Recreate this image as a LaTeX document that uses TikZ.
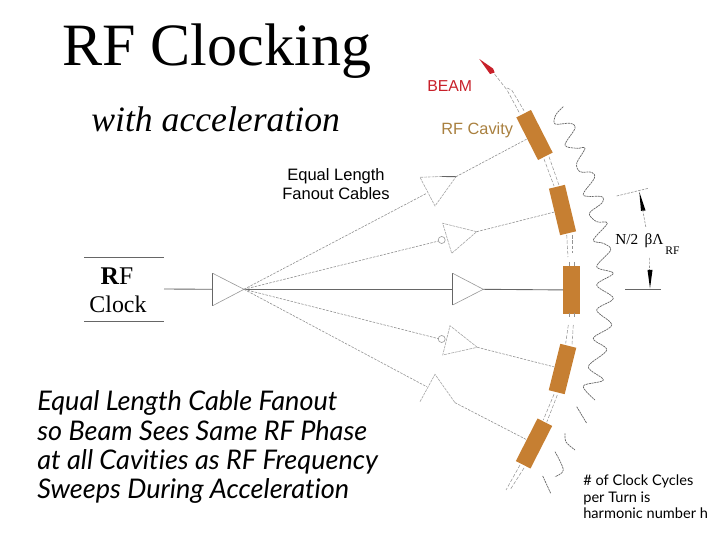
\documentclass[tikz,border=0pt]{standalone}
\usepackage{fontspec}
\setmainfont{Liberation Serif}
\setsansfont{Liberation Sans}
\newfontfamily\handfont[Ligatures=CommonOff]{Lato}
\usetikzlibrary{arrows.meta}
\definecolor{cavitybrown}{HTML}{C67F32}
\definecolor{cavitytext}{HTML}{A9803F}
\definecolor{beamred}{HTML}{C8202A}
\tikzset{
    cavity/.style={draw=none, fill=cavitybrown, minimum width=48pt*0.5669, minimum height=16.5pt*0.5669, inner sep=0pt},
    wire/.style={gray!85, line width=0.35pt, dash pattern=on 1.4pt off 0.7pt},
    pipe/.style={gray!85, line width=0.3pt, dash pattern=on 2pt off 1pt},
    solidwire/.style={black!60, line width=0.5pt},
    amp/.style={gray!70, line width=0.35pt, dash pattern=on 1.6pt off 0.5pt},
    rfwave/.style={gray!80!black, line width=0.4pt, dash pattern=on 1.2pt off 0.4pt, smooth, tension=0.55},
    handtext/.style={anchor=base west, inner sep=0pt, font=\handfont\itshape\fontsize{15.4}{17}\selectfont},
    cycletext/.style={anchor=base west, inner sep=0pt, font=\handfont\fontsize{8.3}{9.4}\selectfont}
}
\begin{document}
\begin{tikzpicture}[x=0.02cm, y=-0.02cm]
    \useasboundingbox (0, 0) rectangle (720, 540);

    % texts
    \node[anchor=base west, inner sep=0pt, font=\fontsize{34.2}{36}\selectfont] (title) at (62, 66) {RF Clocking};
    \node[anchor=base west, inner sep=0pt, font=\itshape\fontsize{20.3}{22}\selectfont] (subtitle) at (91, 132) {with acceleration};
    \node[anchor=base west, inner sep=0pt, text=beamred, font=\sffamily\fontsize{9}{10}\selectfont] (beamlabel) at (427, 92) {BEAM};
    \node[anchor=base west, inner sep=0pt, text=cavitytext, font=\sffamily\fontsize{9.3}{10}\selectfont] (cavitylabel) at (441, 135) {RF Cavity};
    \node[align=center, inner sep=0pt, font=\sffamily\fontsize{9.4}{10.8}\selectfont] (fanoutlabel) at (336, 184) {Equal Length\\Fanout Cables};
    \node[inner sep=0pt, font=\fontsize{14.5}{16}\selectfont] (rflabel) at (117, 276) {\textbf{R}F};
    \node[inner sep=0pt, font=\fontsize{13.6}{16}\selectfont] (clocklabel) at (118, 304) {Clock};
    \node[handtext] (notea) at (37, 411) {Equal Length Cable Fanout};
    \node[handtext] (noteb) at (37, 440) {so Beam Sees Same RF Phase};
    \node[handtext] (notec) at (37, 469) {at all Cavities as RF Frequency};
    \node[handtext] (noted) at (37, 498) {Sweeps During Acceleration};
    \node[cycletext] (cyclea) at (583, 485) {\# of Clock Cycles};
    \node[cycletext] (cycleb) at (583, 502) {per Turn is};
    \node[cycletext] (cyclec) at (583, 518) {harmonic number h};
    \node[anchor=base west, inner sep=0pt, font=\fontsize{8.7}{10}\selectfont] (spacing) at (615, 245) {N/2\, βΛ};
    \node[anchor=base west, inner sep=0pt, font=\fontsize{6.6}{7}\selectfont] (spacingsub) at (665, 255) {RF};

    % cavities
    \node[cavity, rotate=-63] (cava) at (534.5, 135) {};
    \node[cavity, rotate=-76.5] (cavb) at (562.5, 210) {};
    \node[cavity, rotate=-90] (cavc) at (571.7, 290) {};
    \node[cavity, rotate=76] (cavd) at (562.5, 369) {};
    \node[cavity, rotate=63] (cave) at (534, 443.5) {};

    % clock box and first amplifier
    \coordinate (clockout) at (164, 289);
    \coordinate (fanin) at (212.7, 289.3);
    \coordinate (fantip) at (244, 289.3);
    \draw[solidwire] (84, 257.3) -- (164, 257.3);
    \draw[solidwire] (84, 321.3) -- (164, 321.3);
    \draw[solidwire] (clockout) -- (fanin);
    \draw[solidwire] (212.7, 273.3) -- (212.7, 305.7);
    \draw[gray!80, line width=0.35pt] (212.7, 273.3) -- (fantip) -- (212.7, 305.7);

    % amplifiers
    \coordinate (ampaout) at (456, 176.7);
    \coordinate (ampain) at (426.7, 193.3);
    \draw[amp] (441.7, 176.5) -- (420, 177.3) -- (435, 206) -- (ampaout);
    \draw[solidwire] (441.7, 176.5) -- (ampaout);
    \coordinate (ampbout) at (476.7, 231.7);
    \coordinate (ampbin) at (438.7, 241);
    \draw[amp] (ampbout) -- (442.7, 223.3) -- (451.7, 253.3) -- cycle;
    \node[draw, gray!80, line width=0.35pt, circle, minimum size=4pt, inner sep=0pt] (bubbleb) at (441.7, 240) {};
    \coordinate (ampcout) at (483.3, 289.3);
    \coordinate (ampcin) at (452.7, 289.3);
    \draw[solidwire] (452.7, 273.3) -- (452.7, 305);
    \draw[gray!80, line width=0.35pt] (452.7, 273.3) -- (ampcout) -- (452.7, 305);
    \coordinate (ampdout) at (477.3, 347.3);
    \coordinate (ampdin) at (438.7, 338.7);
    \draw[amp] (ampdout) -- (450, 325.7) -- (442.7, 355) -- cycle;
    \node[draw, gray!80, line width=0.35pt, circle, minimum size=4pt, inner sep=0pt] (bubbled) at (441.7, 339) {};
    \coordinate (ampeout) at (455, 402.7);
    \coordinate (ampein) at (426.7, 386.7);
    \draw[amp] (420, 401.7) -- (435, 374.3) -- (ampeout);

    % fanout cables
    \draw[wire] (fantip) -- (ampain);
    \draw[wire] (fantip) -- (ampbin);
    \draw[solidwire] (fantip) -- (ampcin);
    \draw[wire] (fantip) -- (ampdin);
    \draw[wire] (fantip) -- (ampein);

    % amplifier to cavity
    \draw[wire] (ampaout) -- (cava);
    \draw[wire] (ampbout) -- (cavb);
    \draw[solidwire] (ampcout) -- (cavc);
    \draw[wire] (ampdout) -- (cavd);
    \draw[wire] (ampeout) -- (cave);

    % beam pipe
    \draw[pipe] (494.5, 74) -- (507, 90) -- (520, 114);
    \draw[pipe] (507, 88) -- (511.7, 90) -- (524, 110.7);
    \draw[pipe] (544, 159) -- (554, 186);
    \draw[pipe] (549, 156.7) -- (559, 185.3);
    \draw[pipe] (566.7, 235) -- (568, 257);
    \draw[pipe] (572.7, 235) -- (572.7, 253);
    \draw[pipe] (569.3, 262) -- (569.3, 266);
    \draw[pipe] (574, 262) -- (574, 266);
    \draw[pipe] (569.3, 313.5) -- (569.3, 317);
    \draw[pipe] (574, 313.5) -- (574, 317);
    \draw[pipe] (568.3, 325) -- (565.7, 343.3);
    \draw[pipe] (573.3, 325) -- (572, 345);
    \draw[pipe] (554, 394.3) -- (543.3, 420);
    \draw[pipe] (557.3, 395) -- (546.7, 422.3);
    \draw[pipe] (520, 465) -- (506, 490);
    \draw[pipe] (524, 468) -- (510, 490);

    % beam arrow
    \coordinate (beamtip) at (479.3, 59);
    \fill[beamred] (beamtip) -- (493, 68.5) -- (494.7, 72.5) -- (490, 74) -- cycle;

    % rf wave
    \draw[rfwave] plot coordinates {(563.3,106.7) (555.7,115) (555,124) (570,123.3) (575,128.3) (565,145) (576.7,148.3) (585,148.3) (576.7,163.3) (580,171.7) (591.7,172.3) (594.3,178.3) (583.3,195) (601.7,196.7) (601.7,203.3) (589.3,213.3) (596.7,221.7) (607.3,223.3) (593.3,240) (603.3,243.3) (610.7,250) (596.7,266.7) (613.3,273.3) (596.7,285) (613.3,298.3) (596.7,310) (611.7,325) (593.3,338.3) (606.7,350) (588.3,366.7) (603.3,380) (583.3,386) (595,400)};
    \draw[rfwave] plot coordinates {(576.7,406.7) (586.7,423.3)};
    \draw[rfwave] plot coordinates {(565,433.3) (566,442) (575,450)};
    \draw[rfwave] plot coordinates {(555,451.7) (563.3,470) (555,476.7)};
    \draw[rfwave] plot coordinates {(542.7,476) (550.7,493.3)};

    % spacing dimension
    \coordinate (dimtop) at (639.3, 191.7);
    \coordinate (dimbot) at (650, 288.5);
    \draw[wire] (616.7, 196) -- (648.3, 188.3);
    \fill (dimtop) -- (645.5, 210.5) -- (641, 211) -- cycle;
    \draw[wire] (642.7, 210) -- (646, 228);
    \draw[wire] (649.3, 258) -- (649.5, 270);
    \fill (dimbot) -- (652.5, 270) -- (647.5, 270) -- cycle;
    \draw[solidwire] (625, 289.3) -- (660.7, 289.3);
\end{tikzpicture}
\end{document}
